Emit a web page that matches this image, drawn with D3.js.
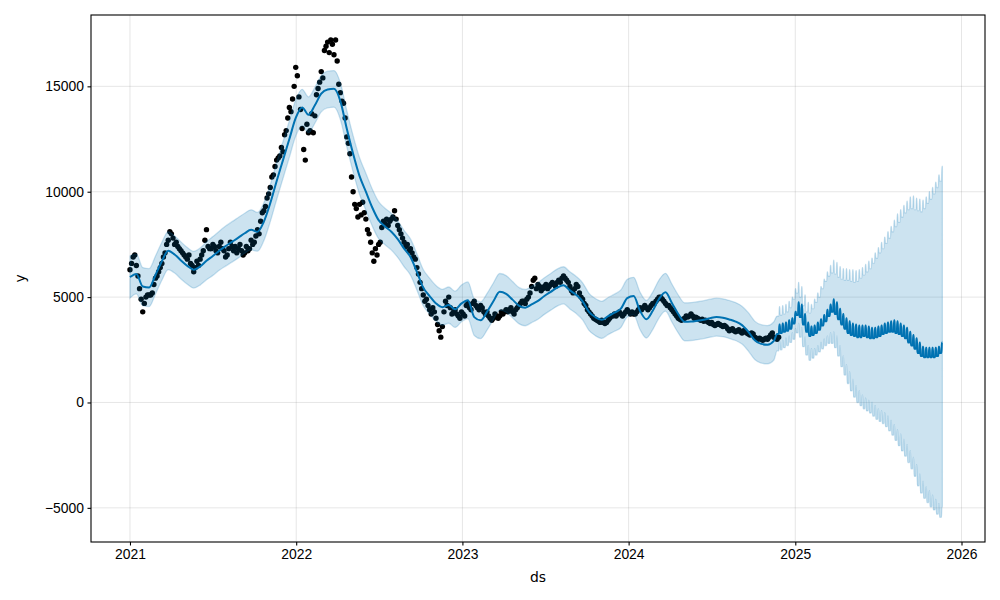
<!DOCTYPE html>
<html>
<head>
<meta charset="utf-8">
<title>Forecast</title>
<style>
  body { margin: 0; background: #fff; }
  svg { display: block; font-family: "DejaVu Sans", sans-serif; }
  .axis text { font-size: 13.9px; fill: #000; }
  .axis line { stroke: #000; stroke-width: 1.1px; }
  .axis path { display: none; }
  .grid line { stroke: #808080; stroke-opacity: 0.2; stroke-width: 1px; }
  .label { font-size: 13.9px; fill: #000; }
</style>
<script src="https://cdn.jsdelivr.net/npm/d3@7"></script>
</head>
<body>
<svg width="1000" height="600"></svg>
<script>

// observed points, one every 3.5 days from obsStart
var obsStart = "2021-01-01";
var obsStepDays = 3.5;
var obsY = [
  6300, 6600, 6900, 7000, 6500, 6000,
  5400, 4900, 4300, 4700, 5000, 5100,
  5100, 5100, 5200, 5600, 5900, 6000,
  6200, 6400, 6600, 6900, 7100, 7500, 7700,
  8100, 8000, 7800, 7500, 7600, 7400, 7300,
  7200, 7100, 7000, 6900, 6800, 7000, 6600,
  6500, 6200, 6400, 6700, 6500, 6800,
  7000, 7200, 7700, 8200, 7400, 7300,
  7300, 7500, 7400, 7200, 7100, 7400, 7600, 7300, 7200, 6900, 7000, 7300, 7600, 7400,
  7200, 7400, 7100, 7300, 7500, 7200, 7000, 7100, 7400, 7200, 7300, 7700, 7500,
  7600, 7900, 8200, 8000,
  8600, 9000, 9100, 9300, 9700, 9900,
  10200, 10700, 10800, 11200, 11500, 11600,
  11700, 12100, 11900, 12700, 12900, 13500,
  14000, 13800, 14400, 15000, 15900, 15500, 14500,
  13900, 13000, 12000, 11500,
  13200, 12800, 12900, 13700, 12800, 13600,
  14600, 14900, 15200, 15700, 15400, 16700,
  16900, 17100, 16600, 17200, 17000, 16500, 17200, 16200,
  15100, 14700, 14300,
  14200, 13500, 12600, 12300, 11800,
  10700, 10000, 9400,
  9200, 8800, 9400, 8900, 9500, 9000, 8700, 8200, 8000,
  7600, 7100, 6700, 7300, 7000, 7500, 7600,
  8300, 8600, 8500, 8700, 8400, 8600, 8700, 8800, 9100, 8700, 8400,
  8200, 8000, 7800, 7600, 7400, 7500, 7200, 7300, 7100, 6900, 6800,
  6400, 6100, 5700, 5400,
  5100, 4800, 4900, 4600, 4400, 4200, 4500, 4300, 4000,
  3700, 3400, 3100, 3600,
  4300, 4800, 4600, 5000, 4500, 4200, 4300, 4400,
  4200, 4100, 4000, 4300, 4200, 4100,
  4600, 4700, 4500, 4400, 4700, 4800, 4600, 4500, 4400, 4600, 4500, 4300, 4200, 4300,
  4100, 4000, 3900, 4000, 4200, 4100, 4000, 4100, 4300, 4200, 4300,
  4400, 4300, 4400, 4500, 4300, 4200, 4400, 4500, 4600, 4700, 4800,
  4800, 4700, 4900, 5000, 5200, 5500,
  5800, 5900, 5400, 5600, 5500,
  5300, 5400, 5500, 5600, 5400, 5500, 5600, 5700, 5600, 5500, 5700, 5800, 5700, 5900,
  6000, 5900, 5800, 5700,
  5500, 5300, 5200, 5400, 5600, 5500, 5200, 5000, 4900, 4700, 4600,
  4400, 4300, 4200, 4100, 4000, 3950, 3900, 3850, 3800, 3900, 3800,
  3750, 3800, 3900, 4000, 4100,
  4100, 4200, 4100, 4200, 4300, 4200, 4100, 4200, 4300, 4400, 4300, 4200, 4300, 4200, 4200, 4300,
  4400, 4500, 4400, 4500, 4600, 4500, 4400, 4500, 4600, 4700, 4700,
  4800, 4900, 5000, 5000, 4900, 4800,
  4700, 4600, 4600, 4500, 4400, 4300, 4200, 4100, 4000, 3950,
  3900, 3950, 4000, 4100, 4050, 4100, 4200, 4100, 4000, 4050, 4000, 3950, 3900, 3950, 3850,
  3900, 3850, 3800, 3750, 3800, 3700, 3650, 3700, 3750, 3700, 3650, 3600, 3650, 3600,
  3500, 3400, 3450, 3500, 3400, 3350, 3400, 3450, 3350, 3300, 3400, 3350, 3300, 3250, 3200, 3300, 3250,
  3100, 3050, 3000, 3050, 3000, 2950, 3000, 3050, 3000, 3100,
  3200, 3300, 3100, 3050, 3000, 3100
];

// fitted values over the history, every 14 days
var fitStart = "2021-01-01";
var fitStepDays = 14;
var fitY = [
  5950, 6100, 5500, 5450, 6050, 6700, 7200, 7020, 6740, 6480,
  6300, 6450, 6720, 6950, 7200, 7420, 7620, 7820, 8030, 8190,
  8100, 8580, 9450, 10500, 11500, 12500, 13500, 14000, 13650, 14100,
  14650, 14850, 14880, 14300, 13000, 11800, 10750, 10000, 9250, 8650,
  8350, 8100, 7750, 7300, 6900, 6200, 5450, 5050, 4700, 4520,
  4620, 4420, 4700, 4850, 4050, 3900, 4300, 4800, 5250, 5150,
  4880, 4600, 4500, 4650, 4820, 5050, 5250, 5450, 5560, 5320,
  5100, 4800, 4300, 4050, 3920, 4100, 4260, 4450, 4950, 5050,
  4350, 3950, 4350, 4920, 5230, 4720, 4200, 3830, 3840, 3880,
  3930, 4000, 4050, 4020, 3940, 3840, 3670, 3350, 2950, 2780,
  2740, 2920
];
var fitLower = [
  4950, 5150, 4600, 4550, 5150, 5800, 6300, 6140, 5860, 5610,
  5430, 5570, 5820, 6030, 6270, 6470, 6660, 6860, 7080, 7240,
  7180, 7680, 8570, 9620, 10630, 11630, 12640, 13140, 12800, 13250,
  13790, 13980, 14010, 13430, 12140, 10940, 9880, 9120, 8370, 7770,
  7480, 7230, 6880, 6440, 6040, 5340, 4590, 4200, 3850, 3670,
  3760, 3560, 3830, 3980, 3180, 3030, 3430, 3930, 4380, 4280,
  4020, 3740, 3640, 3790, 3950, 4180, 4380, 4570, 4680, 4440,
  4220, 3920, 3420, 3170, 3040, 3220, 3380, 3560, 4060, 4160,
  3460, 3060, 3460, 4020, 4330, 3820, 3300, 2930, 2940, 2980,
  3030, 3100, 3150, 3120, 3040, 2940, 2770, 2440, 2040, 1870,
  1830, 2010
];
var fitUpper = [
  6950, 7050, 6400, 6350, 6950, 7600, 8100, 7900, 7620, 7350,
  7170, 7330, 7620, 7870, 8130, 8370, 8580, 8780, 8980, 9140,
  9020, 9480, 10330, 11380, 12370, 13370, 14360, 14860, 14500, 14950,
  15510, 15720, 15750, 15170, 13860, 12660, 11620, 10880, 10130, 9530,
  9220, 8970, 8620, 8160, 7760, 7060, 6310, 5900, 5550, 5370,
  5480, 5280, 5570, 5720, 4920, 4770, 5170, 5670, 6120, 6020,
  5740, 5460, 5360, 5510, 5690, 5920, 6120, 6330, 6440, 6200,
  5980, 5680, 5180, 4930, 4800, 4980, 5140, 5340, 5840, 5940,
  5240, 4840, 5240, 5820, 6130, 5620, 5100, 4730, 4740, 4780,
  4830, 4900, 4950, 4920, 4840, 4740, 4570, 4260, 3860, 3690,
  3650, 3830
];

// forecast, one entry per week from futStart: weekday value and weekend value
var futStart = "2024-11-22";
var futY = [
  3250, 3300, 3350, 3400, 3500, 3750, 4150, 4050, 3700, 3350,
  3150, 3200, 3300, 3450, 3650, 3850, 4100, 4300, 4200, 3950,
  3700, 3500, 3300, 3200, 3150, 3100, 3100, 3150, 3100, 3050,
  3050, 3100, 3150, 3250, 3300, 3350, 3350, 3300, 3250, 3150,
  3050, 2850, 2700, 2550, 2350, 2200, 2150, 2150, 2150, 2150,
  2200, 2350
];
var futYWeekend = [
  3700, 3750, 3800, 3900, 4000, 4300, 4750, 4650, 4200, 3800,
  3600, 3650, 3800, 3950, 4150, 4400, 4650, 4900, 4750, 4450,
  4200, 4000, 3850, 3750, 3700, 3650, 3650, 3650, 3600, 3550,
  3550, 3600, 3650, 3750, 3800, 3850, 3900, 3850, 3750, 3650,
  3550, 3350, 3200, 3050, 2850, 2650, 2600, 2600, 2600, 2600,
  2650, 2850
];
var futUpper = [
  4100, 4150, 4200, 4300, 4500, 4900, 5200, 5000, 4600, 4300,
  4250, 4450, 4750, 5000, 5400, 5750, 6000, 6150, 6100, 5950,
  5850, 5800, 5800, 5750, 5700, 5750, 5900, 6050, 6200, 6350,
  6600, 6850, 7100, 7300, 7550, 7800, 8100, 8350, 8550, 8800,
  9000, 9150, 9200, 9150, 9100, 9050, 9200, 9450, 9650, 9900,
  10200, 10500
];
var futUpperWeekend = [
  4550, 4600, 4650, 4800, 5000, 5400, 5700, 5500, 5100, 4750,
  4650, 4900, 5200, 5500, 5850, 6200, 6500, 6750, 6650, 6450,
  6350, 6350, 6300, 6300, 6250, 6300, 6400, 6550, 6700, 6850,
  7100, 7350, 7600, 7850, 8100, 8350, 8650, 8950, 9150, 9350,
  9550, 9750, 9800, 9700, 9650, 9600, 9750, 10000, 10200, 10450,
  10800, 11200
];
var futLower = [
  2450, 2500, 2600, 2700, 2850, 3000, 3300, 3100, 2650, 2250,
  2000, 2100, 2250, 2400, 2550, 2700, 2800, 2800, 2600, 2200,
  1700, 1300, 900, 550, 250, 0, -150, -300, -400, -500,
  -650, -800, -900, -1000, -1150, -1350, -1550, -1800, -2050, -2300,
  -2550, -2850, -3150, -3500, -3950, -4300, -4550, -4750, -4950, -5100,
  -5300, -5450
];
var futLowerWeekend = [
  2900, 2950, 3050, 3150, 3300, 3500, 3750, 3550, 3100, 2700,
  2550, 2550, 2700, 2850, 3000, 3150, 3300, 3350, 3150, 2700,
  2200, 1800, 1450, 1100, 800, 550, 350, 200, 100, 0,
  -150, -300, -400, -500, -650, -850, -1050, -1300, -1500, -1750,
  -2000, -2300, -2600, -2950, -3400, -3750, -4000, -4200, -4400, -4600,
  -4800, -4950
];

var xTicks = ["2021", "2022", "2023", "2024", "2025", "2026"];
var yTicks = [-5000, 0, 5000, 10000, 15000];
var xLimits = ["2020-10-07T09:36:00Z", "2026-02-21T14:24:00Z"];
var yLimits = [-6620, 18385];

var DAY = 86400000;
function parseDay(s) { return new Date(s + "T00:00:00Z"); }

// build the rows
var obsT0 = parseDay(obsStart).getTime();
var obs = obsY.map(function(v, i) { return {ds: new Date(obsT0 + i * obsStepDays * DAY), y: v}; });

var fitT0 = parseDay(fitStart).getTime();
var fcst = fitY.map(function(v, i) {
  return {ds: new Date(fitT0 + i * fitStepDays * DAY), yhat: v, lo: fitLower[i], hi: fitUpper[i]};
});
var futT0 = parseDay(futStart).getTime();
futY.forEach(function(v, w) {
  var d = futT0 + w * 7 * DAY;
  fcst.push({ds: new Date(d), yhat: v, lo: futLower[w], hi: futUpper[w]});
  fcst.push({ds: new Date(d + 4 * DAY), yhat: v, lo: futLower[w], hi: futUpper[w]});
  fcst.push({ds: new Date(d + 5 * DAY), yhat: futYWeekend[w], lo: futLowerWeekend[w], hi: futUpperWeekend[w]});
  fcst.push({ds: new Date(d + 6 * DAY), yhat: futYWeekend[w], lo: futLowerWeekend[w], hi: futUpperWeekend[w]});
});

var svg = d3.select("svg"),
    margin = {top: 15, right: 15, bottom: 58, left: 91},
    width = +svg.attr("width") - margin.left - margin.right,
    height = +svg.attr("height") - margin.top - margin.bottom;

svg.append("rect").attr("width", 1000).attr("height", 600).attr("fill", "#fff");

var g = svg.append("g").attr("transform", "translate(" + margin.left + "," + margin.top + ")");

var x = d3.scaleUtc()
    .domain(xLimits.map(function(s) { return new Date(s); }))
    .range([0, width]);
var y = d3.scaleLinear()
    .domain(yLimits)
    .range([height, 0]);

var xTickDates = xTicks.map(function(s) { return parseDay(s + "-01-01"); });

// grid
g.append("g").attr("class", "grid")
  .selectAll("line").data(xTickDates).enter().append("line")
    .attr("x1", function(d) { return x(d); }).attr("x2", function(d) { return x(d); })
    .attr("y1", 0).attr("y2", height);
g.append("g").attr("class", "grid")
  .selectAll("line").data(yTicks).enter().append("line")
    .attr("y1", function(d) { return y(d); }).attr("y2", function(d) { return y(d); })
    .attr("x1", 0).attr("x2", width);

svg.append("defs").append("clipPath").attr("id", "clip")
  .append("rect").attr("width", width).attr("height", height);

var plot = g.append("g").attr("clip-path", "url(#clip)");

// history points
plot.append("g")
  .selectAll("circle").data(obs).enter().append("circle")
    .attr("cx", function(d) { return x(d.ds); })
    .attr("cy", function(d) { return y(d.y); })
    .attr("r", 2.7)
    .attr("fill", "#000");

// forecast line
plot.append("path")
  .datum(fcst)
  .attr("fill", "none")
  .attr("stroke", "#0072B2")
  .attr("stroke-width", 2)
  .attr("stroke-linejoin", "round")
  .attr("d", d3.line()
    .curve(d3.curveMonotoneX)
    .x(function(d) { return x(d.ds); })
    .y(function(d) { return y(d.yhat); }));

// uncertainty band
plot.append("path")
  .datum(fcst)
  .attr("fill", "#0072B2")
  .attr("fill-opacity", 0.2)
  .attr("stroke", "#0072B2")
  .attr("stroke-opacity", 0.2)
  .attr("stroke-width", 1.3)
  .attr("d", d3.area()
    .curve(d3.curveMonotoneX)
    .x(function(d) { return x(d.ds); })
    .y0(function(d) { return y(d.lo); })
    .y1(function(d) { return y(d.hi); }));

// axes
g.append("g")
    .attr("class", "axis")
    .attr("transform", "translate(0," + height + ")")
    .call(d3.axisBottom(x).tickValues(xTickDates)
      .tickFormat(function(d, i) { return xTicks[i]; })
      .tickSize(3.5).tickPadding(3.5));

g.append("g")
    .attr("class", "axis")
    .call(d3.axisLeft(y).tickValues(yTicks)
      .tickFormat(function(d) { return d < 0 ? "\u2212" + Math.abs(d) : String(d); })
      .tickSize(3.5).tickPadding(3.5));

// frame
g.append("rect")
    .attr("width", width).attr("height", height)
    .attr("fill", "none").attr("stroke", "#000").attr("stroke-width", 1.1);

svg.append("text").attr("class", "label")
    .attr("x", margin.left + width / 2).attr("y", 582)
    .attr("text-anchor", "middle")
    .text("ds");

svg.append("text").attr("class", "label")
    .attr("transform", "translate(25," + (margin.top + height / 2) + ") rotate(-90)")
    .attr("text-anchor", "middle")
    .text("y");

</script>
</body>
</html>
